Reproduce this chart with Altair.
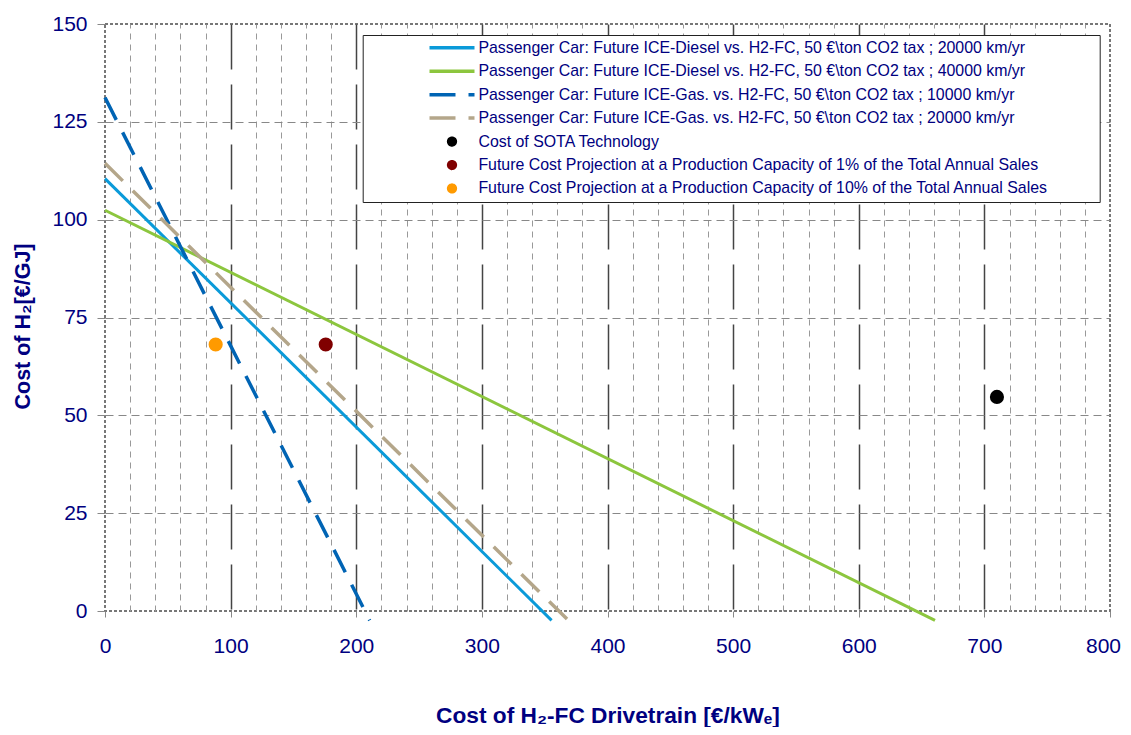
import altair as alt
import pandas as pd

# ---------------- data ----------------
line_names = [
    "Passenger Car: Future ICE-Diesel vs. H2-FC, 50 €\\ton CO2 tax ; 20000 km/yr",
    "Passenger Car: Future ICE-Diesel vs. H2-FC, 50 €\\ton CO2 tax ; 40000 km/yr",
    "Passenger Car: Future ICE-Gas. vs. H2-FC, 50 €\\ton CO2 tax ; 10000 km/yr",
    "Passenger Car: Future ICE-Gas. vs. H2-FC, 50 €\\ton CO2 tax ; 20000 km/yr",
]
line_dashed = [False, False, True, True]
line_x = [[0, 355.5], [0, 660.7], [0, 210.7], [0, 368.8]]
line_y = [[110.5, -2.4], [102.4, -2.4], [131.2, -2.4], [114.4, -2.4]]

point_names = [
    "Cost of SOTA Technology",
    "Future Cost Projection at a Production Capacity of 1% of the Total Annual Sales",
    "Future Cost Projection at a Production Capacity of 10% of the Total Annual Sales",
]
point_x = [710, 175.7, 88.1]
point_y = [54.7, 68.1, 68.1]

series_colors = ["#0a9ad9", "#8cc63e", "#0064b4", "#b4a68a",
                 "#000000", "#800000", "#ff9a00"]

x_major = [0, 100, 200, 300, 400, 500, 600, 700, 800]
x_minor = [20, 40, 60, 80, 120, 140, 160, 180, 220, 240, 260, 280,
           320, 340, 360, 380, 420, 440, 460, 480, 520, 540, 560, 580,
           620, 640, 660, 680, 720, 740, 760, 780]
y_ticks = [0, 25, 50, 75, 100, 125, 150]

# ---------------- tables ----------------
rows = []
for name, dashed, xs, ys in zip(line_names, line_dashed, line_x, line_y):
    for xv, yv in zip(xs, ys):
        rows.append({"series": name, "dashed": dashed, "x": xv, "y": yv})
df_lines = pd.DataFrame(rows)
df_solid = df_lines[~df_lines["dashed"]]
df_dash = df_lines[df_lines["dashed"]]
df_points = pd.DataFrame({"series": point_names, "x": point_x, "y": point_y})

NAVY = "#000080"
FONT = "Liberation Sans"

color_scale = alt.Scale(domain=line_names + point_names, range=series_colors)
x_scale = alt.Scale(domain=[0, 800], nice=False)
y_scale = alt.Scale(domain=[0, 150], nice=False, zero=False)

circle_path = "M0.15,0A0.15,0.15,0,1,1,-0.15,0A0.15,0.15,0,1,1,0.15,0Z"

legend = alt.Legend(
    orient="none", legendX=257.7, legendY=11, direction="vertical",
    title="\u00a0", titleOrient="right", titlePadding=50, titleFontSize=1,
    symbolSize=2025, symbolStrokeWidth=3.5, clipHeight=21.5, rowPadding=1.45,
    padding=2, strokeColor="#222222", fillColor="white",
    labelFont=FONT, labelFontSize=15.9, labelColor=NAVY, labelLimit=2000,
    symbolOffset=62.8, labelOffset=1.9, symbolOpacity=1,
    symbolType={"expr": "datum.index < 4 ? 'stroke' : '" + circle_path + "'"},
    symbolDash={"expr": "(datum.index == 2 || datum.index == 3) ? [26, 13] : [1, 0]"},
    symbolFillColor={"expr": "scale('color', datum.value)"},
)

x_axis_bottom = alt.Axis(
    orient="bottom", values=x_major, grid=True, gridColor="#444444",
    gridDash=[45, 15], gridWidth=1.5,
    gridOpacity={"condition": {"test": "datum.value <= 0 || datum.value >= 800", "value": 0}, "value": 1},
    domain=False, ticks=True, tickSize=6, tickColor="#888888", tickWidth=1,
    labelFont=FONT, labelFontSize=21, labelColor=NAVY, labelPadding=18.5,
    labelFlush=False, labelOverlap=False,
    labelOffset={"condition": {"test": "datum.value >= 800", "value": -7}, "value": 0},
    title="Cost of H₂-FC Drivetrain [€/kWₑ]", titleFont=FONT, titleFontSize=22.7,
    titleFontWeight="bold", titleColor=NAVY, titleX=502.5, titleY=104.5,
    titleAlign="center", titleBaseline="middle",
)
x_axis_top = alt.Axis(
    orient="top", values=x_minor, grid=True, gridColor="#999999",
    gridDash=[6, 5], gridWidth=1, labels=False, ticks=False, domain=False,
    title=None,
)
y_axis = alt.Axis(
    orient="left", values=y_ticks, grid=True, gridColor="#888888",
    gridDash=[8, 5], gridWidth=1,
    gridOpacity={"condition": {"test": "datum.value <= 0 || datum.value >= 150", "value": 0}, "value": 1},
    domain=False, tickSize=8, tickColor="#888888", tickWidth=1,
    labelFont=FONT, labelFontSize=21, labelColor=NAVY, labelPadding=10,
    labelFlush=False, labelOverlap=False,
    title="Cost of H₂[€/GJ]", titleFont=FONT, titleFontSize=21.5,
    titleFontWeight="bold", titleColor=NAVY, titleX=-82, titleY=302,
    titleAngle=270, titleAlign="center", titleBaseline="middle",
)

solid = alt.Chart(df_solid).mark_line(strokeWidth=3).encode(
    x=alt.X("x:Q", scale=x_scale, axis=x_axis_bottom),
    y=alt.Y("y:Q", scale=y_scale, axis=y_axis),
    color=alt.Color("series:N", scale=color_scale, legend=legend),
)
dashed = alt.Chart(df_dash).mark_line(strokeWidth=3.5, strokeDash=[25, 14]).encode(
    x=alt.X("x:Q", scale=x_scale, axis=None),
    y=alt.Y("y:Q", scale=y_scale, axis=y_axis),
    color=alt.Color("series:N", scale=color_scale, legend=None),
)
points = alt.Chart(df_points).mark_circle(size=200, opacity=1).encode(
    x=alt.X("x:Q", scale=x_scale, axis=x_axis_top),
    y=alt.Y("y:Q", scale=y_scale, axis=y_axis),
    color=alt.Color("series:N", scale=color_scale, legend=None),
)

chart = alt.layer(solid, dashed, points).properties(
    width=1005, height=587,
    autosize=alt.AutoSizeParams(type="none"),
    padding={"left": 97, "top": 16, "right": 13, "bottom": 116},
).configure_view(
    stroke="#777777", strokeWidth=2, strokeDash=[3, 2]
)

chart.save("out.html", embed_options={"renderer": "svg", "actions": False})
